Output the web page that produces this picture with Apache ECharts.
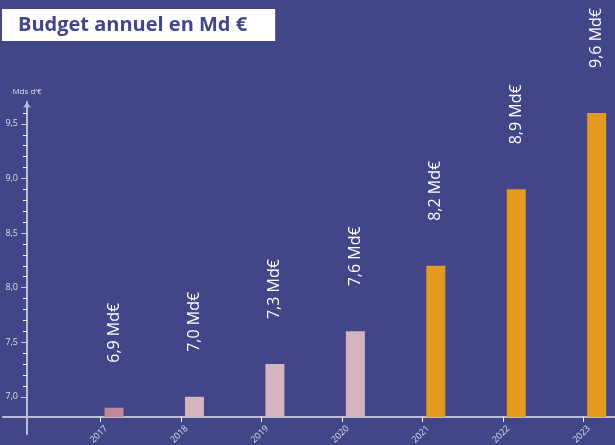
<!DOCTYPE html>
<html>
<head>
<meta charset="utf-8">
<script src="https://cdn.jsdelivr.net/npm/echarts@6/dist/echarts.min.js"></script>
<style>
html,body{margin:0;padding:0;background:#424689;}
#c{width:615px;height:445px;}
</style>
</head>
<body>
<div id="c"></div>
<script>
// ---- data ----
const years = [2017, 2018, 2019, 2020, 2021, 2022, 2023];
const budget = [6.9, 7.0, 7.3, 7.6, 8.2, 8.9, 9.6];
// y-axis tick positions (every 0.1 from 7,0 to 9,6); labelled every 0,5
const yTicks = [7.0, 7.1, 7.2, 7.3, 7.4, 7.5, 7.6, 7.7, 7.8, 7.9, 8.0, 8.1, 8.2, 8.3,
                8.4, 8.5, 8.6, 8.7, 8.8, 8.9, 9.0, 9.1, 9.2, 9.3, 9.4, 9.5, 9.6];
const yLabelStep = 5; // one label every 5 ticks
const titleText = 'Budget annuel en Md €';
const yAxisName = "Mds d'€";
const valueUnit = ' Md€';

// ---- layout / style ----
const BG = '#424689';
const FONT = "'Open Sans', 'Noto Sans', sans-serif";
const AXIS_COLOR = '#bdbddb';
const LABEL_COLOR = '#dcdcee';
const Y_MIN = 6.815, Y_MAX = 9.7;
const GRID_TOP = 102, GRID_BOTTOM_PX = 417, H = 445;
const GRID_LEFT = 3, GRID_W = 612;
const PX_YEAR = 80.45, TICK0_PX = 100.7;
function xRange(shiftPx) {
  const min = years[0] - (TICK0_PX + shiftPx - GRID_LEFT) / PX_YEAR;
  return { min: min, max: min + GRID_W / PX_YEAR };
}
function yPx(v) { // pixel of a value on the main value axis (used for the tick-grid placement)
  return GRID_TOP + (Y_MAX - v) / (Y_MAX - Y_MIN) * (GRID_BOTTOM_PX - GRID_TOP);
}
const fmt = v => Number(v).toFixed(1).replace('.', ',');
function barColor(year) {
  if (year === years[0]) return '#c1889a';
  if (year <= 2020) return '#d5b4bf';
  return '#e39a1f';
}

const chart = echarts.init(document.getElementById('c'), null, { renderer: 'canvas' });
const rTick = xRange(0), rBar = xRange(13.3), rLab = xRange(5.5);
const tickTop = yPx(yTicks[yTicks.length - 1]);
const tickBottom = yPx(yTicks[0]);

const option = {
  backgroundColor: BG,
  animation: false,
  title: {
    text: titleText,
    left: 2, top: 9,
    backgroundColor: '#ffffff',
    padding: [6, 28, 6, 16],
    textStyle: { fontSize: 20, fontWeight: 'bold', color: '#41458a', fontFamily: FONT, lineHeight: 20 }
  },
  grid: [
    { left: GRID_LEFT, right: 0, top: GRID_TOP, bottom: H - GRID_BOTTOM_PX, containLabel: false, outerBoundsMode: 'none' },
    { left: GRID_LEFT, right: 0, top: GRID_BOTTOM_PX, bottom: 11, containLabel: false, outerBoundsMode: 'none' },
    { left: GRID_LEFT, right: 0, top: tickTop, bottom: H - tickBottom, containLabel: false, outerBoundsMode: 'none' }
  ],
  xAxis: [
    { // ticks + axis line
      gridIndex: 0, type: 'value', position: 'bottom', min: rTick.min, max: rTick.max,
      axisLine: { show: true, lineStyle: { color: AXIS_COLOR, width: 2 } },
      axisTick: { show: true, customValues: years, length: 5, lineStyle: { color: '#ffffff', width: 1 } },
      axisLabel: { show: false },
      splitLine: { show: false }
    },
    { // bars
      gridIndex: 0, type: 'value', position: 'bottom', min: rBar.min, max: rBar.max, show: false,
      splitLine: { show: false }
    },
    { // labels
      gridIndex: 0, type: 'value', position: 'bottom', min: rLab.min, max: rLab.max,
      axisLine: { show: false }, axisTick: { show: false }, splitLine: { show: false },
      axisLabel: { show: true, customValues: years, rotate: 45, margin: 10, fontSize: 9,
        color: LABEL_COLOR, fontFamily: FONT, formatter: v => String(v) }
    },
    { gridIndex: 1, type: 'value', position: 'bottom', min: 0, max: 1, show: false },
    { gridIndex: 2, type: 'value', position: 'bottom', min: 0, max: 1, show: false }
  ],
  yAxis: [
    { // main value axis: line + arrow + name
      gridIndex: 0, type: 'value', position: 'left', min: Y_MIN, max: Y_MAX, offset: -24,
      name: yAxisName, nameLocation: 'end', nameGap: 6,
      nameTextStyle: { fontSize: 8, color: LABEL_COLOR, fontFamily: FONT },
      axisLine: { show: true, symbol: ['none', 'arrow'], symbolSize: [6, 6],
        lineStyle: { color: AXIS_COLOR, width: 2 } },
      axisTick: { show: false },
      axisLabel: { show: false },
      splitLine: { show: false }
    },
    { // stub below x axis
      gridIndex: 1, type: 'value', position: 'left', min: 0, max: 1, offset: -24,
      axisLine: { show: true, lineStyle: { color: AXIS_COLOR, width: 2 } },
      axisTick: { show: false }, axisLabel: { show: false }, splitLine: { show: false }
    },
    { // minor ticks
      gridIndex: 2, type: 'category', position: 'left', data: yTicks, boundaryGap: false, offset: -24,
      axisLine: { show: false },
      axisTick: { show: true, interval: (i) => i % yLabelStep !== 0, length: 4,
        lineStyle: { color: '#ffffff', width: 1 } },
      axisLabel: { show: false },
      splitLine: { show: false }
    },
    { // major ticks + labels
      gridIndex: 2, type: 'category', position: 'left', data: yTicks, boundaryGap: false, offset: -24,
      axisLine: { show: false },
      axisTick: { show: true, interval: (i) => i % yLabelStep === 0, length: 6,
        lineStyle: { color: '#c9c9e0', width: 1 } },
      axisLabel: { show: true, interval: (i) => i % yLabelStep === 0, margin: 9, fontSize: 9,
        color: LABEL_COLOR, fontFamily: FONT, formatter: v => fmt(v) },
      splitLine: { show: false }
    }
  ],
  series: [
    {
      type: 'bar', xAxisIndex: 1, yAxisIndex: 0, barWidth: 19,
      data: years.map((y, i) => [y, budget[i]]),
      itemStyle: { color: p => barColor(p.value[0]) },
      label: {
        show: true, position: 'top', distance: 45, rotate: 90,
        align: 'left', verticalAlign: 'middle',
        color: '#ffffff', fontSize: 16, fontFamily: FONT,
        formatter: p => fmt(p.value[1]) + valueUnit
      }
    }
  ]
};
chart.setOption(option);
</script>
</body>
</html>
